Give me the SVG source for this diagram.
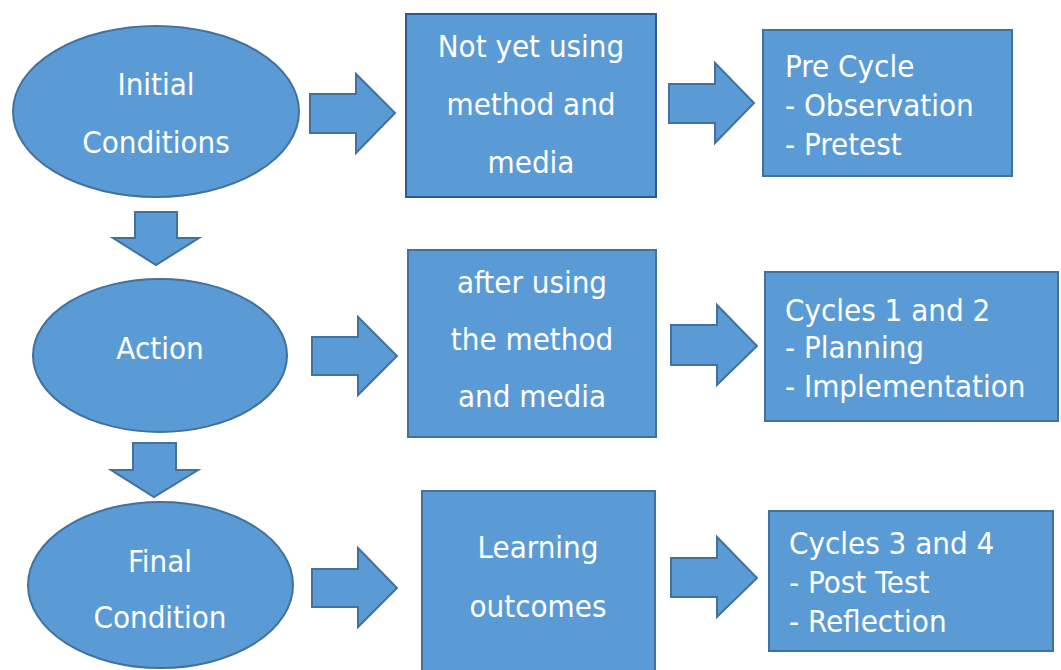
<svg xmlns="http://www.w3.org/2000/svg" width="1061" height="670" viewBox="0 0 1061 670">
  <style>
    .shape { fill: #5B9BD5; stroke: #41719C; stroke-width: 2; }
    .dark { stroke: #2F5597; }
    .label { fill: #FFFFFF; font-family: "DejaVu Sans Condensed", "DejaVu Sans", Verdana, sans-serif; font-stretch: condensed; font-size: 31px; }
    .mid { text-anchor: middle; }
  </style>
  <rect width="1061" height="670" fill="#FFFFFF"/>

  <!-- block arrows -->
  <g id="connectors">
    <!-- row 1 -->
    <polygon class="shape" points="310,94 356,94 356,74 395,113 356,153 356,133 310,133"/>
    <polygon class="shape" points="669,84 715,84 715,63 754,103 715,143 715,123 669,123"/>
    <!-- row 2 -->
    <polygon class="shape" points="312,337 358,337 358,317 397,356 358,395 358,375 312,375"/>
    <polygon class="shape" points="671,325 717,325 717,305 757,346 717,385 717,365 671,365"/>
    <!-- row 3 -->
    <polygon class="shape" points="312,569 358,569 358,548 397,588 358,627 358,607 312,607"/>
    <polygon class="shape" points="671,558 717,558 717,537 757,578 717,617 717,597 671,597"/>
    <!-- downward -->
    <polygon class="shape" points="135,212 177,212 177,238 199,238 156,265 113,238 135,238"/>
    <polygon class="shape" points="133,443 176,443 176,470 198,470 154,497 111,470 133,470"/>
  </g>

  <!-- left column: states -->
  <g id="initial-conditions">
    <ellipse class="shape" cx="156" cy="111.5" rx="143" ry="85.5"/>
    <text class="label mid" x="156" y="95">Initial</text>
    <text class="label mid" x="156" y="153">Conditions</text>
  </g>
  <g id="action">
    <ellipse class="shape" cx="160" cy="355.5" rx="127" ry="76.5"/>
    <text class="label mid" x="160" y="359">Action</text>
  </g>
  <g id="final-condition">
    <ellipse class="shape" cx="160.5" cy="585" rx="132.5" ry="83"/>
    <text class="label mid" x="160" y="572">Final</text>
    <text class="label mid" x="160" y="628">Condition</text>
  </g>

  <!-- middle column -->
  <g id="not-yet-using">
    <rect class="shape dark" x="406" y="14" width="250" height="183"/>
    <text class="label mid" x="531" y="57">Not yet using</text>
    <text class="label mid" x="531" y="115">method and</text>
    <text class="label mid" x="531" y="173">media</text>
  </g>
  <g id="after-using">
    <rect class="shape" x="408" y="250" width="248" height="187"/>
    <text class="label mid" x="532" y="293">after using</text>
    <text class="label mid" x="532" y="350">the method</text>
    <text class="label mid" x="532" y="407">and media</text>
  </g>
  <g id="learning-outcomes">
    <rect class="shape" x="422" y="491" width="233" height="190"/>
    <text class="label mid" x="538" y="558">Learning</text>
    <text class="label mid" x="538" y="617">outcomes</text>
  </g>

  <!-- right column: cycles -->
  <g id="pre-cycle">
    <rect class="shape" x="763" y="30" width="249" height="146"/>
    <text class="label" x="785" y="77">Pre Cycle</text>
    <text class="label" x="785" y="116">- Observation</text>
    <text class="label" x="785" y="155">- Pretest</text>
  </g>
  <g id="cycles-1-2">
    <rect class="shape" x="765" y="272" width="293" height="149"/>
    <text class="label" x="785" y="321">Cycles 1 and 2</text>
    <text class="label" x="785" y="358">- Planning</text>
    <text class="label" x="785" y="397">- Implementation</text>
  </g>
  <g id="cycles-3-4">
    <rect class="shape" x="769" y="511" width="284" height="140"/>
    <text class="label" x="789" y="554">Cycles 3 and 4</text>
    <text class="label" x="789" y="593">- Post Test</text>
    <text class="label" x="789" y="632">- Reflection</text>
  </g>
</svg>
